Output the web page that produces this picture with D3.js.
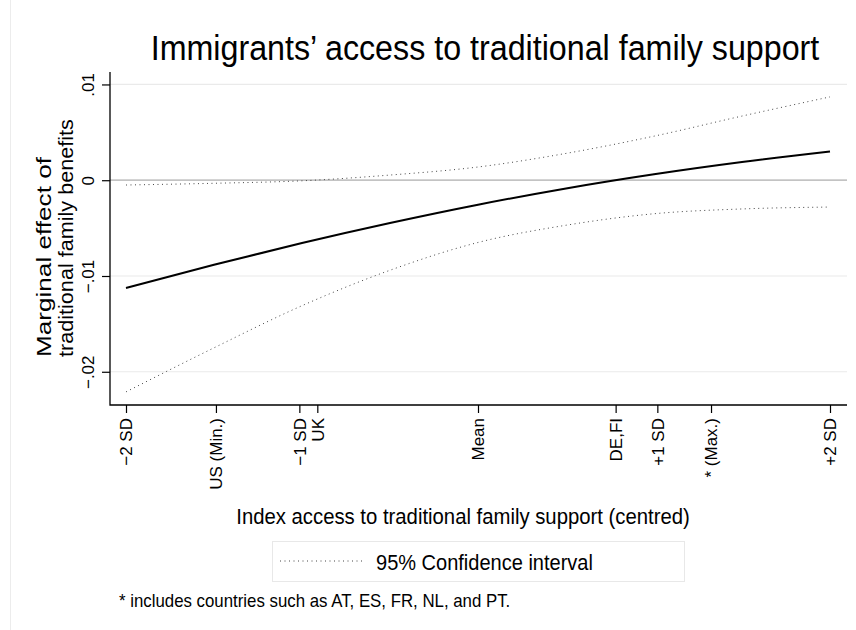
<!DOCTYPE html>
<html>
<head>
<meta charset="utf-8">
<script src="https://cdn.jsdelivr.net/npm/d3@7"></script>
<style>
  html, body { margin: 0; padding: 0; background: #fff; }
  svg text { font-family: "Liberation Sans", Arial, Helvetica, sans-serif; fill: #000; }
</style>
</head>
<body>
<svg id="chart"></svg>
<script>
// moderator values (in SD units, mean = 0) where the margins were computed
const xVals    = [-2, -1.5, -1, -0.5, 0, 0.5, 1, 1.5, 2];
const effect   = [-0.01125, -0.00882, -0.00656, -0.00447, -0.00256, -0.00086, 0.00062, 0.0019, 0.0030];
const ciUpper  = [-0.0005, -0.00032, -0.00006, 0.00054, 0.00138, 0.0028, 0.0046, 0.0067, 0.0087];
const ciLower  = [-0.0221, -0.0175, -0.0131, -0.0094, -0.0065, -0.0047, -0.0035, -0.0030, -0.0028];

// x axis ticks (positions on the centred index, labels)
const xTickValues = [-2, -1.489, -1.015, -0.913, 0, 0.782, 1.019, 1.324, 2];
const xTickLabels = ['\u22122 SD', 'US (Min.)', '\u22121 SD', 'UK', 'Mean', 'DE,FI', '+1 SD', '* (Max.)', '+2 SD'];

// y axis ticks
const yTickValues = [0.01, 0, -0.01, -0.02];
const yTickLabels = ['.01', '0', '\u2212.01', '\u2212.02'];

const W = 856, H = 630;
const plot = { left: 110, right: 847, top: 72, bottom: 405 };
const squeeze = 0.94; // horizontal text is a little narrow in the original

const svg = d3.select('#chart')
  .attr('width', W)
  .attr('height', H);

svg.append('rect')
  .attr('width', W).attr('height', H)
  .attr('fill', '#fff');

// faint outer border at the left
svg.append('line')
  .attr('x1', 10.5).attr('x2', 10.5)
  .attr('y1', 0).attr('y2', H)
  .attr('stroke', '#ececec');

// scales
const x = d3.scaleLinear()
  .domain([-2, 2])
  .range([126, 830]);

const y = d3.scaleLinear()
  .domain([-0.02347, 0.0113])
  .range([plot.bottom, plot.top]);

// gridlines
svg.append('g')
  .selectAll('line')
  .data(yTickValues)
  .join('line')
    .attr('x1', plot.left).attr('x2', plot.right)
    .attr('y1', d => y(d)).attr('y2', d => y(d))
    .attr('stroke', '#eaeaea')
    .attr('stroke-width', 1.2);

// reference line at zero
svg.append('line')
  .attr('x1', plot.left).attr('x2', plot.right)
  .attr('y1', y(0)).attr('y2', y(0))
  .attr('stroke', '#b4b4b4')
  .attr('stroke-width', 1.2);

// y axis
const yAxis = svg.append('g')
  .attr('transform', `translate(${plot.left},0)`)
  .call(d3.axisLeft(y)
    .tickValues(yTickValues)
    .tickFormat((d, i) => yTickLabels[i])
    .tickSize(8)
    .tickSizeOuter(0));
yAxis.select('.domain').remove();
yAxis.selectAll('.tick line').attr('stroke', '#000').attr('stroke-width', 1.2);
yAxis.selectAll('.tick text')
  .attr('x', null).attr('dy', null)
  .attr('transform', 'translate(-22,0) rotate(-90)')
  .attr('text-anchor', 'middle')
  .attr('dy', '0.35em')
  .style('font-size', '17px');

// x axis
const xAxis = svg.append('g')
  .attr('transform', `translate(0,${plot.bottom})`)
  .call(d3.axisBottom(x)
    .tickValues(xTickValues)
    .tickFormat((d, i) => xTickLabels[i])
    .tickSize(8)
    .tickSizeOuter(0));
xAxis.select('.domain').remove();
xAxis.selectAll('.tick line').attr('stroke', '#000').attr('stroke-width', 1.2);
xAxis.selectAll('.tick text')
  .attr('y', null).attr('dy', null)
  .attr('transform', 'translate(0,13) rotate(-90)')
  .attr('text-anchor', 'end')
  .attr('dy', '0.35em')
  .style('font-size', '17px');

// axis lines
svg.append('path')
  .attr('d', `M${plot.left},${plot.top}V${plot.bottom}H${plot.right}`)
  .attr('fill', 'none')
  .attr('stroke', '#000')
  .attr('stroke-width', 1.3);

// lines
const line = vals => d3.line()
  .x((d, i) => x(xVals[i]))
  .y(d => y(d))
  .curve(d3.curveMonotoneX)(vals);

[ciUpper, ciLower].forEach(s => {
  svg.append('path')
    .attr('d', line(s))
    .attr('fill', 'none')
    .attr('stroke', '#444')
    .attr('stroke-width', 1)
    .attr('stroke-dasharray', '1,3.5');
});

svg.append('path')
  .attr('d', line(effect))
  .attr('fill', 'none')
  .attr('stroke', '#000')
  .attr('stroke-width', 2);

// horizontal text helper (slightly narrowed like the original)
function htext(txt, cx, by, size, anchor) {
  svg.append('text')
    .attr('transform', `translate(${cx},${by}) scale(${squeeze},1)`)
    .attr('text-anchor', anchor)
    .style('font-size', size + 'px')
    .text(txt);
}

htext('Immigrants\u2019 access to traditional family support', 485, 60, 34.3, 'middle');
htext('Index access to traditional family support (centred)', 463, 524, 21.6, 'middle');

// y title (two lines, both start near the bottom of the plot)
const yTitle = ['Marginal effect of', 'traditional family benefits'];
const yTitleLen = [200, 238];
svg.append('g')
  .selectAll('text')
  .data(yTitle)
  .join('text')
    .attr('text-anchor', 'start')
    .attr('dy', '0.35em')
    .style('font-size', '20px')
    .text(d => d)
    .attr('transform', function(d, i) {
      const sx = yTitleLen[i] / this.getComputedTextLength();
      return `translate(${44 + i * 21.5},357) rotate(-90) scale(${sx},1)`;
    });

// legend
svg.append('rect')
  .attr('x', 272.5).attr('y', 541.5)
  .attr('width', 412).attr('height', 40)
  .attr('fill', '#fff')
  .attr('stroke', '#e8e8e8');
svg.append('line')
  .attr('x1', 280).attr('x2', 363)
  .attr('y1', 561).attr('y2', 561)
  .attr('stroke', '#444')
  .attr('stroke-dasharray', '1,3.5');
htext('95% Confidence interval', 376, 569.5, 21.3, 'start');

// footnote
htext('* includes countries such as AT, ES, FR, NL, and PT.', 119, 607, 17.9, 'start');
</script>
</body>
</html>
